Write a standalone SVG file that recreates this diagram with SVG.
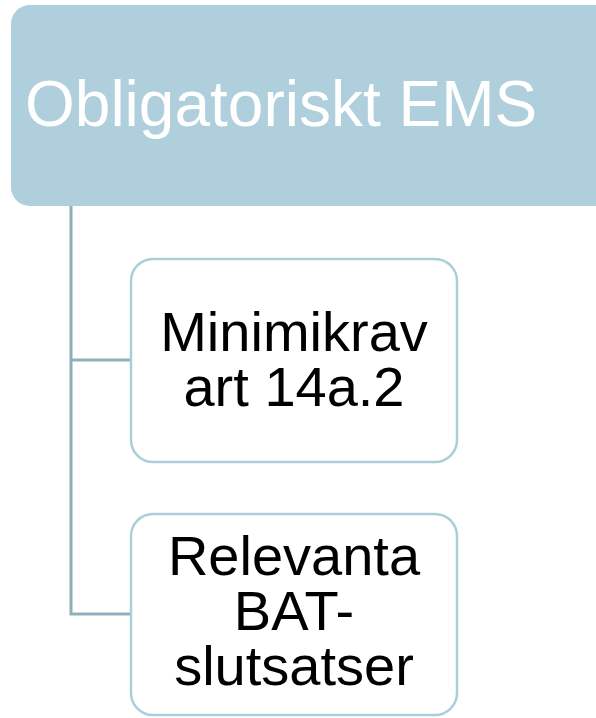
<svg xmlns="http://www.w3.org/2000/svg" width="596" height="718" viewBox="0 0 596 718">
<style>
.top{fill:#aecfdb;}
.child{fill:#ffffff;stroke:#aacfdc;stroke-width:2.5;}
.conn{fill:none;stroke:#8fafba;stroke-width:3;}
.t1{font-family:"Liberation Sans",Arial,sans-serif;font-size:64px;fill:#ffffff;}
.t2{font-family:"Liberation Sans",Arial,sans-serif;font-size:56px;fill:#000000;text-anchor:middle;}
</style>
<rect width="596" height="718" fill="#ffffff"/>
<g id="connectors">
<path class="conn" d="M71,206 V614 H131"/>
<path class="conn" d="M71,360 H131"/>
</g>
<g id="root">
<rect class="top" x="11" y="5" width="610" height="201" rx="19"/>
<text class="t1" x="25" y="126">Obligatoriskt EMS</text>
</g>
<g id="child1">
<rect class="child" x="131" y="259" width="326" height="203" rx="22"/>
<text class="t2" x="294" y="351">Minimikrav</text>
<text class="t2" x="294" y="406">art 14a.2</text>
</g>
<g id="child2">
<rect class="child" x="131" y="514" width="326" height="201" rx="22"/>
<text class="t2" x="294" y="575">Relevanta</text>
<text class="t2" x="294" y="630">BAT-</text>
<text class="t2" x="294" y="685">slutsatser</text>
</g>
</svg>
